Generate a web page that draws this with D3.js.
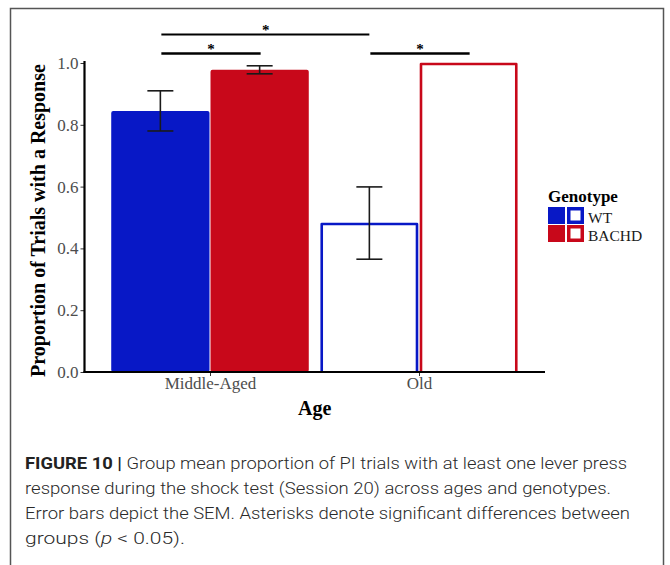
<!DOCTYPE html>
<html><head><meta charset="utf-8">
<script src="https://cdn.jsdelivr.net/npm/d3@7/dist/d3.min.js"></script>
<style>body{margin:0;background:#fff}svg{display:block}</style>
</head><body>
<script>
const ages = ["Middle-Aged", "Old"];
const genotypes = ["WT", "BACHD"];
const means = {"Middle-Aged": [0.845, 0.978], "Old": [0.482, 1.0]};
const sems = {"Middle-Aged": [0.065, 0.013], "Old": [0.117, 0.0]};
const yTicks = [0.0, 0.2, 0.4, 0.6, 0.8, 1.0];
const colors = ["#0818c6", "#c8081a"];
const comparisons = [
  {from: ["Middle-Aged", "WT"], to: ["Old", "WT"], level: 2, label: "*"},
  {from: ["Middle-Aged", "WT"], to: ["Middle-Aged", "BACHD"], level: 1, label: "*"},
  {from: ["Old", "WT"], to: ["Old", "BACHD"], level: 1, label: "*"}
];
const captionLines = [
  {bold: "FIGURE 10 | ", text: "Group mean proportion of PI trials with at least one lever press", len: 602},
  {text: "response during the shock test (Session 20) across ages and genotypes.", len: 586},
  {text: "Error bars depict the SEM. Asterisks denote significant differences between", len: 605},
  {text: "groups (", ital: "p", rest: " < 0.05).", len: 160}
];

const W = 670, H = 565;
const svg = d3.select("body").append("svg").attr("width", W).attr("height", H);
svg.append("rect").attr("x", 10.5).attr("y", 8.5).attr("width", 653).attr("height", 570)
  .attr("fill", "none").attr("stroke", "#555").attr("stroke-width", 1.5);

const x0 = 84.5, x1 = 545;
const y = d3.scaleLinear().domain([0, 1]).range([372, 63]);
const xCat = d3.scalePoint().domain(ages).range([210, 419]);
const step = xCat(ages[1]) - xCat(ages[0]);
const bw = step * 0.95;
const xSub = d3.scaleBand().domain(genotypes).range([-bw / 2, bw / 2]).padding(0);
const barX = (a, g) => xCat(a) + xSub(g) + xSub.bandwidth() / 2;

const serif = "'Liberation Serif','Times New Roman',serif";

// bars
ages.forEach((a, ai) => {
  genotypes.forEach((g, gi) => {
    const m = means[a][gi];
    const xl = xCat(a) + xSub(g);
    if (ai === 0) {
      svg.append("rect").attr("x", xl + 0.5).attr("y", y(m)).attr("width", xSub.bandwidth() - 1)
        .attr("height", y(0) - y(m)).attr("rx", 2).attr("fill", colors[gi]);
    } else {
      svg.append("path")
        .attr("d", `M${xl + 2},${y(0)}V${y(m) + 1}H${xl + xSub.bandwidth() - 2}V${y(0)}`)
        .attr("fill", "none").attr("stroke", colors[gi]).attr("stroke-width", 2.6)
        .attr("stroke-linejoin", "round");
    }
  });
});

// error bars
ages.forEach(a => {
  genotypes.forEach((g, gi) => {
    const m = means[a][gi], s = sems[a][gi];
    if (s <= 0) return;
    const cx = barX(a, g), cw = 13;
    const gEb = svg.append("g").attr("stroke", "#1a1a1a").attr("stroke-width", 1.6);
    gEb.append("line").attr("x1", cx).attr("x2", cx).attr("y1", y(m + s)).attr("y2", y(m - s));
    gEb.append("line").attr("x1", cx - cw).attr("x2", cx + cw).attr("y1", y(m + s)).attr("y2", y(m + s));
    gEb.append("line").attr("x1", cx - cw).attr("x2", cx + cw).attr("y1", y(m - s)).attr("y2", y(m - s));
  });
});

// axes
const yAxis = d3.axisLeft(y).tickValues(yTicks).tickFormat(d3.format(".1f")).tickSize(4).tickPadding(2);
const gy = svg.append("g").attr("transform", `translate(${x0},0)`).call(yAxis);
gy.select(".domain").remove();
gy.selectAll(".tick line").attr("stroke", "#333");
gy.selectAll("text").attr("font-family", serif).attr("font-size", 17).attr("fill", "#4d4d4d");
svg.append("line").attr("x1", x0).attr("x2", x0).attr("y1", y(1) - 2).attr("y2", y(0) + 1)
  .attr("stroke", "#000").attr("stroke-width", 2.2);

const xAxis = d3.axisBottom(xCat).tickSize(4).tickPadding(1);
const gx = svg.append("g").attr("transform", `translate(0,${y(0)})`).call(xAxis);
gx.select(".domain").remove();
gx.selectAll(".tick line").attr("stroke", "#333");
gx.selectAll("text").attr("font-family", serif).attr("font-size", 17).attr("fill", "#4d4d4d");
svg.append("line").attr("x1", x0 - 1).attr("x2", x1).attr("y1", y(0)).attr("y2", y(0))
  .attr("stroke", "#000").attr("stroke-width", 2.2);

// axis titles
svg.append("text").attr("x", (x0 + x1) / 2).attr("y", 415).attr("text-anchor", "middle")
  .attr("font-family", serif).attr("font-weight", "bold").attr("font-size", 20).text("Age");
svg.append("text").attr("transform", `translate(45,${(y(0) + y(1)) / 2 + 3}) rotate(-90)`)
  .attr("text-anchor", "middle").attr("font-family", serif).attr("font-weight", "bold")
  .attr("font-size", 20).text("Proportion of Trials with a Response");

// significance brackets
const levelY = {1: 53.5, 2: 34.5};
comparisons.forEach(c => {
  const xa = barX(c.from[0], c.from[1]), xb = barX(c.to[0], c.to[1]);
  const ly = levelY[c.level];
  svg.append("line").attr("x1", xa + 1).attr("x2", xb + (c.level === 2 ? 0 : 1)).attr("y1", ly).attr("y2", ly)
    .attr("stroke", "#000").attr("stroke-width", c.level === 2 ? 2 : 2.4);
  svg.append("text").attr("x", (xa + xb) / 2 + 1).attr("y", ly).attr("text-anchor", "middle")
    .attr("font-family", serif).attr("font-size", 15).attr("font-weight", "bold").text(c.label);
});

// legend
const lg = svg.append("g");
lg.append("text").attr("x", 548).attr("y", 202).attr("font-family", serif).attr("font-weight", "bold")
  .attr("font-size", 17).text("Genotype");
genotypes.forEach((g, i) => {
  const ty = 207 + i * 18;
  lg.append("rect").attr("x", 548).attr("y", ty).attr("width", 17).attr("height", 17).attr("fill", colors[i]);
  lg.append("rect").attr("x", 567).attr("y", ty).attr("width", 17).attr("height", 17).attr("fill", colors[i]);
  lg.append("rect").attr("x", 570.5).attr("y", ty + 3.5).attr("width", 10).attr("height", 10).attr("fill", "#fff");
  lg.append("text").attr("x", 588).attr("y", ty + 15.5).attr("font-family", serif).attr("font-size", 15.5)
    .attr("fill", "#1a1a1a").text(g);
});

// caption
const sans = "Roboto,'Liberation Sans',Arial,sans-serif";
captionLines.forEach((l, i) => {
  const t = svg.append("text").attr("x", 25).attr("y", 469 + i * 25).attr("font-family", sans)
    .attr("font-size", 17).attr("font-weight", 300).attr("fill", "#2a2a2a")
    .attr("textLength", l.len).attr("lengthAdjust", "spacingAndGlyphs");
  if (l.bold) t.append("tspan").attr("font-weight", 700).attr("fill", "#222").text(l.bold);
  t.append("tspan").text(l.text);
  if (l.ital) {
    t.append("tspan").attr("font-style", "italic").text(l.ital);
    t.append("tspan").text(l.rest);
  }
});
</script>
</body></html>
